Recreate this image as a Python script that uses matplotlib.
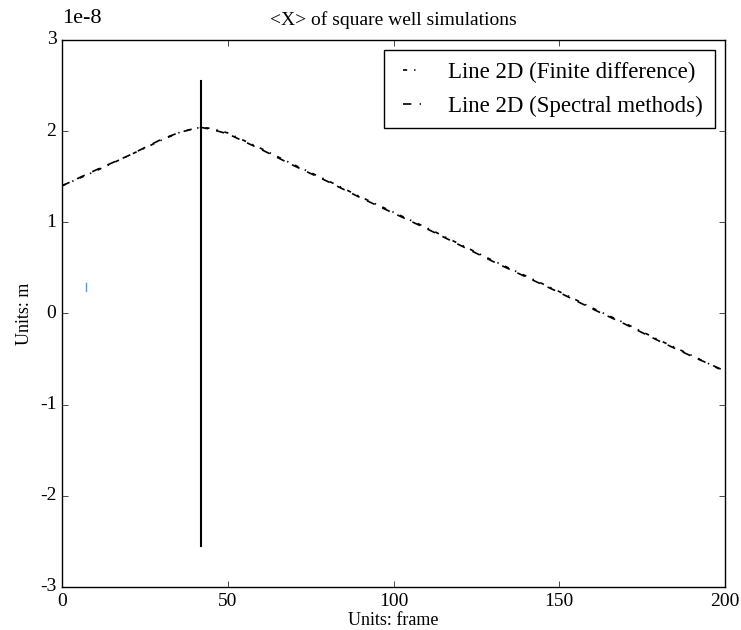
import numpy as np
import matplotlib
matplotlib.use('Agg')
import matplotlib.pyplot as plt
from matplotlib.transforms import ScaledTranslation

# frame -> <X> readings (units of 1e-8 m)
frames = [0, 10, 20, 30, 35, 40, 42, 45, 50, 60, 70, 80, 90, 100, 110, 120,
          130, 140, 150, 160, 170, 180, 190, 200]
x_fd = [1.40, 1.56, 1.73, 1.90, 1.98, 2.03, 2.04, 2.03, 1.98, 1.81, 1.63, 1.46,
        1.28, 1.11, 0.94, 0.76, 0.58, 0.41, 0.24, 0.06, -0.11, -0.29, -0.46, -0.64]
x_sp = [1.40, 1.57, 1.73, 1.91, 1.98, 2.03, 2.04, 2.02, 1.97, 1.80, 1.62, 1.45,
        1.27, 1.10, 0.93, 0.75, 0.57, 0.40, 0.23, 0.05, -0.12, -0.30, -0.47, -0.63]

vline_x = 42
vline_y = [-2.55, 2.55]
blip_x = [7.3, 7.3]
blip_y = [0.25, 0.33]

scale = 1e-8

plt.style.use('classic')
plt.rcParams['font.family'] = ['Liberation Serif', 'DejaVu Serif']
plt.rcParams['axes.formatter.use_mathtext'] = False
plt.rcParams['axes.unicode_minus'] = False

fig = plt.figure(figsize=(7.41, 6.3), dpi=100, facecolor='white')
ax = fig.add_axes([0.0837, 0.0683, 0.8947, 0.8683])

ax.plot(frames, np.array(x_fd) * scale, '-.', color='k', lw=1.2, label='Line 2D (Finite difference)')
ax.plot(frames, np.array(x_sp) * scale, '--', color='k', lw=1.2, label='Line 2D (Spectral methods)')
ax.plot([vline_x, vline_x], np.array(vline_y) * scale, '-', color='k', lw=1.5)
ax.plot(blip_x, np.array(blip_y) * scale, '-', color='#5b9bd5', lw=1)

ax.set_xlim(0, 200)
ax.set_ylim(-3e-8, 3e-8)
ax.set_xticks([0, 50, 100, 150, 200])
ax.set_yticks(np.arange(-3, 4) * scale)
ax.set_title('<X> of square well simulations', fontsize=14, pad=11)
ax.set_xlabel('Units: frame', fontsize=13, labelpad=2)
ax.set_ylabel('Units: m', fontsize=13)
ax.tick_params(labelsize=14)

# offset text sits a bit higher in the original
ot = ax.yaxis.get_offset_text()
ot.set_fontsize(16)
ot.set_transform(ot.get_transform() + ScaledTranslation(0, 9 / 72, fig.dpi_scale_trans))

ax.legend(loc='upper right', fancybox=False, fontsize=16.5, handlelength=1.4,
          handletextpad=0.9, labelspacing=0.55, numpoints=2, frameon=True,
          borderaxespad=0.45, borderpad=0.5)

fig.savefig('out.png', dpi=100, facecolor='white')
